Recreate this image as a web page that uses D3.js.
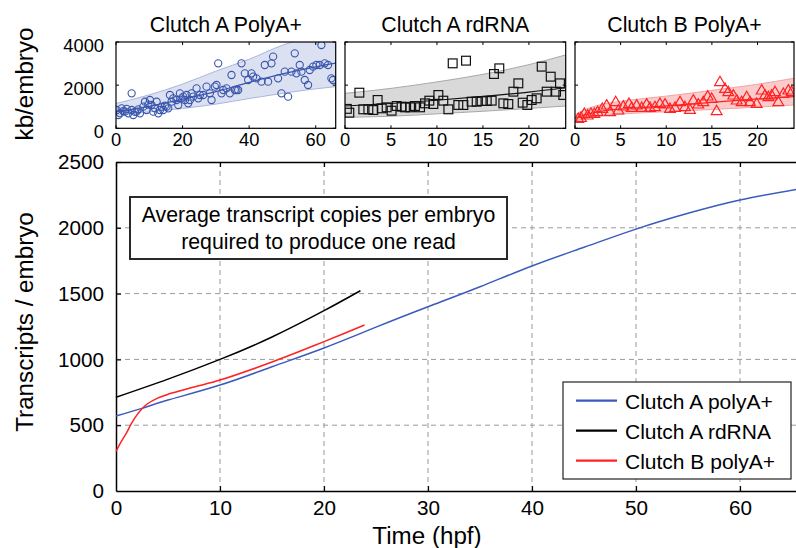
<!DOCTYPE html>
<html><head><meta charset="utf-8">
<script src="https://cdn.jsdelivr.net/npm/d3@7"></script>
<style>
html,body{margin:0;padding:0;background:#fff;}
svg{display:block;font-family:"Liberation Sans",Arial,Helvetica,sans-serif;}
</style></head>
<body>
<svg id="chart" width="796" height="548"></svg>
<script>
// ---------- DATA ----------
const panelTitles = ["Clutch A PolyA+", "Clutch A rdRNA", "Clutch B PolyA+"];
const legendLabels = ["Clutch A polyA+", "Clutch A rdRNA", "Clutch B polyA+"];
const annotationLines = ["Average transcript copies per embryo", "required to produce one read"];

// small panel 1: Clutch A PolyA+ (kb/embryo)
const aPolyX = [0.2,0.7,1.7,2.7,3.7,4.7,5.2,6.2,7.2,4.7,8.2,8.7,9.2,10.2,10.7,11.2,11.7,12.2,12.7,13.2,13.7,14.2,15.2,15.7,16.2,16.7,17.2,18.2,18.7,19.2,19.7,20.2,20.7,21.2,21.7,22.2,22.7,23.2,24.2,24.7,25.2,26.2,27.2,28.2,28.7,29.7,30.2,30.7,31.7,32.2,33.2,34.2,34.7,35.7,36.2,36.7,37.7,38.7,39.7,40.7,41.2,42.2,43.7,44.7,45.7,46.7,47.2,48.7,49.7,50.7,51.7,52.7,53.7,54.2,55.2,55.7,56.7,57.7,58.2,59.2,60.2,61.2,61.7,62.7,63.7,64.7,65.2,1.2,2.2,3.2,6.7,9.7,5.7,14.7];
const aPolyY = [848,616,925,771,694,848,616,771,694,1620,1003,1234,848,1312,1080,771,925,1234,694,848,1003,848,1003,925,1543,1234,1389,1312,1080,1621,1389,1466,1312,1543,1157,1312,1621,1466,1852,1389,1543,1543,1930,1621,1312,1930,2007,3011,1621,1775,1852,1621,2470,1775,1775,1775,3011,2548,2239,2548,2393,2316,2161,2934,2161,3011,3320,2316,1621,2625,1466,2625,3475,2548,2934,2625,2239,2007,2702,2857,2934,2934,3861,3011,2934,2316,2239,700,800,900,880,1100,760,1050];
const aPolyFitX = [0,10,20,30,40,50,60,66];
const aPolyFit = [770,1020,1350,1700,2130,2520,2850,3020];
const aPolyHi = [1150,1550,2050,2650,3200,3850,4300,4500];
const aPolyLo = [600,760,920,1120,1380,1620,1830,1930];

// small panel 2: Clutch A rdRNA
const aRdX = [0.47,1.56,1.99,2.54,3.08,3.55,3.99,4.53,5.07,5.62,6.16,6.52,7.07,7.61,8.16,8.70,9.17,9.61,10.15,10.69,11.24,11.71,13.16,12.32,12.87,13.77,14.32,14.86,15.41,15.95,16.20,16.78,17.22,17.76,18.31,18.85,19.32,19.83,20.30,20.84,21.39,21.93,22.37,22.95,23.38,23.74,0.2];
const aRdY = [724,1651,879,879,848,1312,925,972,817,1033,1003,972,972,1033,972,1157,1281,1126,1543,1281,879,3011,3135,1080,1080,1234,1234,1265,1265,1281,2517,2779,1157,1126,1698,2084,1188,1080,1312,1389,2857,1698,2393,1698,2084,1543,900];
const aRdFitX = [0,5,10,15,20,24];
const aRdFit = [1033,1150,1300,1480,1680,1880];
const aRdHi = [1620,1850,2150,2500,2950,3400];
const aRdLo = [510,560,670,790,920,1033];

// small panel 3: Clutch B PolyA+
const bPolyX = [0.36,0.66,1.02,1.39,1.75,2.12,2.48,2.99,3.47,3.84,4.46,4.75,5.30,5.92,6.21,6.76,7.31,7.85,8.22,8.77,9.31,9.86,10.41,10.96,11.51,12.05,12.60,12.97,13.51,14.06,14.54,14.98,15.52,15.89,16.44,16.80,17.35,17.72,18.26,18.81,19.18,19.91,20.46,20.82,21.19,21.55,21.92,22.28,22.83,23.38,23.74];
const bPolyY = [462,508,693,616,693,693,771,925,1080,771,1234,848,1033,1157,972,1080,972,1126,972,1003,1157,1126,925,972,1234,1003,879,1312,1126,1234,1497,1389,817,2161,1852,1698,1543,1312,1234,1466,1234,1157,1775,1543,1466,1543,1698,1234,1621,1775,1698];
const bPolyFitX = [0,1,2.5,5,7.5,10,15,20,24];
const bPolyFit = [462,610,760,890,970,1040,1200,1360,1470];
const bPolyHi = [620,850,1060,1250,1380,1490,1760,2040,2320];
const bPolyLo = [350,440,560,660,720,770,870,980,1080];

// main chart: transcripts / embryo
const mainTimeA = [0,2.5,5,10,15,20,25,30,35,40,45,50,55,60,65.4];
const mainPolyA = [570,628,691,805,944,1087,1245,1400,1552,1710,1852,1990,2110,2211,2292];
const mainTimeRd = [0,5,10,15,20,23.5];
const mainRd = [712,850,1000,1170,1370,1522];
const mainTimeB = [0,0.5,1,1.5,2,2.5,3,4,5,7.5,10,15,20,23.9];
const mainPolyB = [300,375,440,515,577,625,661,706,735,790,843,980,1135,1261];

const mainXTicks = [0,10,20,30,40,50,60];
const mainYTicks = [0,500,1000,1500,2000,2500];
const smallYTicks = [0,2000,4000];

// ---------- STYLE ----------
const BLUE = "#3a56ad", BLACK = "#000", RED = "#ff2222";
const svg = d3.select("#chart");
const FONT_TICK = 20.7, FONT_SMALL = 18.3, FONT_TITLE = 24.2;

// ---------- SMALL PANELS ----------
const panels = [
  {title: panelTitles[0], x0:116, x1:335.7, dom:[0,66], ticks:[0,20,40,60], xs:aPolyX, ys:aPolyY,
   fx:aPolyFitX, fit:aPolyFit, hi:aPolyHi, lo:aPolyLo, color:BLUE, band:"#dce1f2", edge:"#a8b5df", marker:"circle", yLabels:true},
  {title: panelTitles[1], x0:345, x1:565.7, dom:[0,24], ticks:[0,5,10,15,20], xs:aRdX, ys:aRdY,
   fx:aRdFitX, fit:aRdFit, hi:aRdHi, lo:aRdLo, color:"#111", band:"#d9d9d9", edge:"#a8a8a8", marker:"square", yLabels:false},
  {title: panelTitles[2], x0:575, x1:794, dom:[0,24], ticks:[0,5,10,15,20], xs:bPolyX, ys:bPolyY,
   fx:bPolyFitX, fit:bPolyFit, hi:bPolyHi, lo:bPolyLo, color:RED, band:"#fbcaca", edge:"#f4a3a3", marker:"triangle", yLabels:false}
];
const pTop = 42, pBot = 128.3;

panels.forEach((p, i) => {
  const x = d3.scaleLinear().domain(p.dom).range([p.x0, p.x1]);
  const y = d3.scaleLinear().domain([0,4000]).range([pBot, pTop]);
  const g = svg.append("g");
  const cid = "clip" + i;
  svg.append("clipPath").attr("id", cid).append("rect")
    .attr("x", p.x0).attr("y", pTop).attr("width", p.x1 - p.x0).attr("height", pBot - pTop);
  const inner = g.append("g").attr("clip-path", `url(#${cid})`);
  const idx = d3.range(p.fx.length);
  const area = d3.area().x(k => x(p.fx[k])).y0(k => y(p.lo[k])).y1(k => y(p.hi[k])).curve(d3.curveMonotoneX);
  inner.append("path").attr("d", area(idx)).attr("fill", p.band);
  const lineHi = d3.line().x(k => x(p.fx[k])).y(k => y(p.hi[k])).curve(d3.curveMonotoneX);
  const lineLo = d3.line().x(k => x(p.fx[k])).y(k => y(p.lo[k])).curve(d3.curveMonotoneX);
  const lineFit = d3.line().x(k => x(p.fx[k])).y(k => y(p.fit[k])).curve(d3.curveMonotoneX);
  inner.append("path").attr("d", lineHi(idx)).attr("fill","none").attr("stroke", p.edge).attr("stroke-width",1);
  inner.append("path").attr("d", lineLo(idx)).attr("fill","none").attr("stroke", p.edge).attr("stroke-width",1);
  inner.append("path").attr("d", lineFit(idx)).attr("fill","none").attr("stroke", p.color).attr("stroke-width",1.2);
  const pts = d3.range(p.xs.length);
  if (p.marker === "circle") {
    inner.selectAll("circle.pt").data(pts).join("circle").attr("class","pt")
      .attr("cx", k => x(p.xs[k])).attr("cy", k => y(p.ys[k])).attr("r", 3.6)
      .attr("fill","none").attr("stroke", p.color).attr("stroke-width",1.1);
  } else if (p.marker === "square") {
    const s = 8.8;
    inner.selectAll("rect.pt").data(pts).join("rect").attr("class","pt")
      .attr("x", k => x(p.xs[k]) - s/2).attr("y", k => y(p.ys[k]) - s/2).attr("width", s).attr("height", s)
      .attr("fill","none").attr("stroke", p.color).attr("stroke-width",1.2);
  } else {
    inner.selectAll("path.pt").data(pts).join("path").attr("class","pt")
      .attr("transform", k => `translate(${x(p.xs[k])},${y(p.ys[k])})`)
      .attr("d", "M0,-5.4L5.4,4L-5.4,4Z")
      .attr("fill","none").attr("stroke", p.color).attr("stroke-width",1.2);
  }
  // frame
  g.append("rect").attr("x", p.x0).attr("y", pTop).attr("width", p.x1 - p.x0).attr("height", pBot - pTop)
    .attr("fill","none").attr("stroke","#000").attr("stroke-width",1.2);
  // ticks (inward) on bottom/top
  p.ticks.forEach(t => {
    g.append("line").attr("x1", x(t)).attr("x2", x(t)).attr("y1", pBot).attr("y2", pBot - 3).attr("stroke","#000");
    g.append("line").attr("x1", x(t)).attr("x2", x(t)).attr("y1", pTop).attr("y2", pTop + 3).attr("stroke","#000");
    g.append("text").attr("x", x(t)).attr("y", pBot + 18).attr("text-anchor","middle")
      .attr("font-size", FONT_SMALL).attr("fill","#000").text(t);
  });
  smallYTicks.forEach(t => {
    g.append("line").attr("x1", p.x0).attr("x2", p.x0 + 3).attr("y1", y(t)).attr("y2", y(t)).attr("stroke","#000");
    g.append("line").attr("x1", p.x1).attr("x2", p.x1 - 3).attr("y1", y(t)).attr("y2", y(t)).attr("stroke","#000");
    if (p.yLabels) {
      g.append("text").attr("x", p.x0 - 12).attr("y", y(t) + 10).attr("text-anchor","end")
        .attr("font-size", FONT_SMALL).attr("fill","#000").text(t);
    }
  });
  g.append("text").attr("x", (p.x0 + p.x1)/2).attr("y", 32).attr("text-anchor","middle")
    .attr("font-size", 21.3).attr("fill","#000").text(p.title);
});
svg.append("text").attr("transform","translate(33,84) rotate(-90)").attr("text-anchor","middle")
  .attr("font-size", FONT_TITLE).attr("fill","#000").text("kb/embryo");

// ---------- MAIN CHART ----------
const mL = 116, mR = 796, mT = 162, mB = 491;
const x = d3.scaleLinear().domain([0, (mR - mL) / 10.4]).range([mL, mR]);
const y = d3.scaleLinear().domain([0, 2500]).range([mB, mT]);
const mg = svg.append("g");
// gridlines
mainXTicks.filter(t => t > 0).forEach(t => {
  mg.append("line").attr("x1", x(t)).attr("x2", x(t)).attr("y1", mB).attr("y2", mT)
    .attr("stroke","#9a9a9a").attr("stroke-width",1).attr("stroke-dasharray","5,4");
});
mainYTicks.filter(t => t > 0 && t < 2500).forEach(t => {
  mg.append("line").attr("x1", mL).attr("x2", mR).attr("y1", y(t)).attr("y2", y(t))
    .attr("stroke","#9a9a9a").attr("stroke-width",1).attr("stroke-dasharray","5,4");
});
// axes with inner ticks
const fmt = d3.format("d");
const xAxisB = d3.axisBottom(x).tickValues(mainXTicks).tickFormat(fmt).tickSizeInner(-5).tickSizeOuter(0).tickPadding(9);
const xAxisT = d3.axisTop(x).tickValues(mainXTicks).tickSizeInner(-5).tickSizeOuter(0).tickFormat("");
const yAxisL = d3.axisLeft(y).tickValues(mainYTicks).tickFormat(fmt).tickSizeInner(-5).tickSizeOuter(0).tickPadding(12);
const gxB = mg.append("g").attr("transform", `translate(0,${mB})`).call(xAxisB);
const gxT = mg.append("g").attr("transform", `translate(0,${mT})`).call(xAxisT);
const gyL = mg.append("g").attr("transform", `translate(${mL},0)`).call(yAxisL);
[gxB, gxT, gyL].forEach(a => {
  a.select(".domain").attr("stroke","#000").attr("stroke-width",1.5);
  a.selectAll(".tick line").attr("stroke","#000").attr("stroke-width",1.2);
  a.selectAll(".tick text").attr("font-size", FONT_TICK).attr("fill","#000")
    .attr("font-family", '"Liberation Sans",Arial,Helvetica,sans-serif');
});
gxB.selectAll(".tick line").filter(d => d === 0).remove();
gyL.selectAll(".tick line").filter(d => d === 0).remove();

// curves
const series = [
  {t: mainTimeA, v: mainPolyA, color: "#3a5bbd", curve: d3.curveNatural},
  {t: mainTimeRd, v: mainRd, color: BLACK, curve: d3.curveNatural},
  {t: mainTimeB, v: mainPolyB, color: RED, curve: d3.curveCatmullRom.alpha(0.5)}
];
series.forEach(s => {
  const line = d3.line().x(k => x(s.t[k])).y(k => y(s.v[k])).curve(s.curve);
  mg.append("path").attr("d", line(d3.range(s.t.length))).attr("fill","none")
    .attr("stroke", s.color).attr("stroke-width",1.5);
});

// annotation box
mg.append("rect").attr("x",130).attr("y",197).attr("width",377).attr("height",62)
  .attr("fill","#fff").attr("stroke","#2a2a2a").attr("stroke-width",2);
annotationLines.forEach((t, i) => {
  mg.append("text").attr("x", 318.5).attr("y", 222 + i * 26.5).attr("text-anchor","middle")
    .attr("font-size", 21.3).attr("fill","#000").text(t);
});

// legend
const lg = mg.append("g");
lg.append("rect").attr("x",563).attr("y",382).attr("width",228).attr("height",97)
  .attr("fill","#fff").attr("stroke","#222").attr("stroke-width",1.2);
legendLabels.forEach((lab, i) => {
  const yy = 400.7 + i * 30;
  lg.append("line").attr("x1",576).attr("x2",617).attr("y1",yy).attr("y2",yy)
    .attr("stroke", series[i].color).attr("stroke-width",2.2);
  lg.append("text").attr("x",625).attr("y",yy + 8).attr("font-size",21).attr("fill","#000").text(lab);
});

// axis titles
svg.append("text").attr("x", 427).attr("y", 544).attr("text-anchor","middle")
  .attr("font-size", FONT_TITLE).attr("fill","#000").text("Time (hpf)");
svg.append("text").attr("transform","translate(33,322) rotate(-90)").attr("text-anchor","middle")
  .attr("font-size", FONT_TITLE).attr("fill","#000").text("Transcripts / embryo");
</script>
</body></html>
